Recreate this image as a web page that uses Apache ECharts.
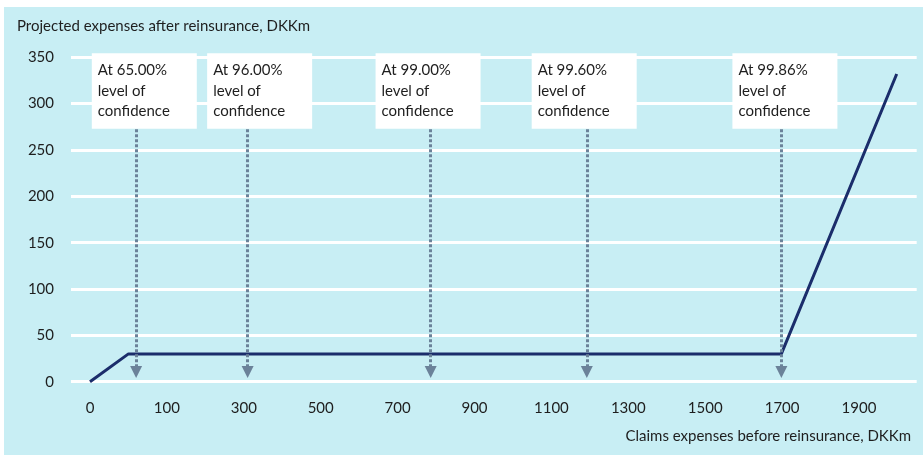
<!DOCTYPE html>
<html>
<head>
<meta charset="utf-8">
<script src="https://cdn.jsdelivr.net/npm/echarts@6/dist/echarts.min.js"></script>
<style>
html,body{margin:0;padding:0;background:#fff;}
#chart{width:923px;height:455px;}
</style>
</head>
<body>
<div id="chart"></div>
<script>
// x positions are in tick-slot units (tick i carries label xTickLabels[i])
const xTickLabels = ['0', '100', '300', '500', '700', '900', '1100', '1300', '1500', '1700', '1900'];
const xTickSlots = [0, 1, 2, 3, 4, 5, 6, 7, 8, 9, 10];
const yTicks = [0, 50, 100, 150, 200, 250, 300, 350];

const expenseX = [0, 0.50, 8.99, 10.49];
const expenseY = [0, 30, 30, 332];

const confidenceLevels = ['65.00%', '96.00%', '99.00%', '99.60%', '99.86%'];
const confidenceX = [0.60, 2.05, 4.43, 6.46, 8.99];
const noteBoxX = [0.03, 1.53, 3.72, 5.75, 8.36];
const noteBottom = 272.3;
const arrowFrom = 272.3;
const arrowTo = 10.5;

const yAxisTitle = 'Projected expenses after reinsurance, DKKm';
const xAxisTitle = 'Claims expenses before reinsurance, DKKm';

const FONT = 'Lato';
const FS = 15;
const chart = echarts.init(document.getElementById('chart'), null, {renderer: 'canvas'});

const lineData = expenseX.map((x, i) => [x, expenseY[i]]);
const arrowLines = confidenceX.map(x => [{coord: [x, arrowFrom]}, {coord: [x, arrowTo]}]);
const noteData = noteBoxX.map((x, i) => ({
  value: [x, noteBottom],
  name: 'At ' + confidenceLevels[i] + '\nlevel of\nconfidence'
}));

chart.setOption({
  animation: false,
  backgroundColor: '#ffffff',
  textStyle: {fontFamily: FONT},
  graphic: [
    {type: 'rect', z: -10, shape: {x: 4, y: 7, width: 919, height: 448}, style: {fill: '#c8eef4'}, silent: true},
    {type: 'text', left: 17, top: 19, style: {text: yAxisTitle, font: FS + 'px ' + FONT, fill: '#1e1e1e'}},
    {type: 'text', right: 12, top: 429, style: {text: xAxisTitle, font: FS + 'px ' + FONT, fill: '#1e1e1e'}}
  ],
  grid: {left: 71, right: 6.3, top: 57.3, bottom: 73.3, containLabel: false, outerBoundsMode: 'none'},
  xAxis: {
    type: 'value',
    min: -0.247,
    max: 10.75,
    axisLine: {show: false},
    axisTick: {show: false},
    splitLine: {show: false},
    axisLabel: {
      customValues: xTickSlots,
      formatter: v => xTickLabels[Math.round(v)],
      margin: 19,
      fontSize: FS,
      color: '#1e1e1e',
      fontFamily: FONT
    }
  },
  yAxis: {
    type: 'value',
    min: yTicks[0],
    max: yTicks[yTicks.length - 1],
    interval: 50,
    axisLine: {show: false},
    axisTick: {show: false},
    splitLine: {show: true, lineStyle: {color: '#ffffff', width: 3}},
    axisLabel: {margin: 17, fontSize: FS, color: '#1e1e1e', fontFamily: FONT}
  },
  series: [
    {
      type: 'line',
      data: lineData,
      symbol: 'none',
      lineStyle: {color: '#1b2d6b', width: 3},
      z: 3
    },
    {
      type: 'line',
      data: [],
      z: 4,
      markLine: {
        silent: true,
        symbol: ['none', 'triangle'],
        symbolSize: [12, 12],
        label: {show: false},
        lineStyle: {color: '#6b8299', width: 3, type: [3, 2]},
        itemStyle: {color: '#6b8299'},
        data: arrowLines
      }
    },
    {
      type: 'scatter',
      data: noteData,
      symbol: 'rect',
      symbolSize: 1,
      clip: false,
      silent: true,
      itemStyle: {color: 'rgba(0,0,0,0)', opacity: 1},
      z: 5,
      label: {
        show: true,
        position: [0, 0],
        formatter: p => p.name,
        backgroundColor: '#ffffff',
        padding: [7, 6, 7, 6],
        width: 93,
        lineHeight: 20.5,
        fontSize: FS,
        color: '#1e1e1e',
        opacity: 1,
        fontFamily: FONT,
        align: 'left',
        verticalAlign: 'bottom'
      }
    }
  ]
});
</script>
</body>
</html>
